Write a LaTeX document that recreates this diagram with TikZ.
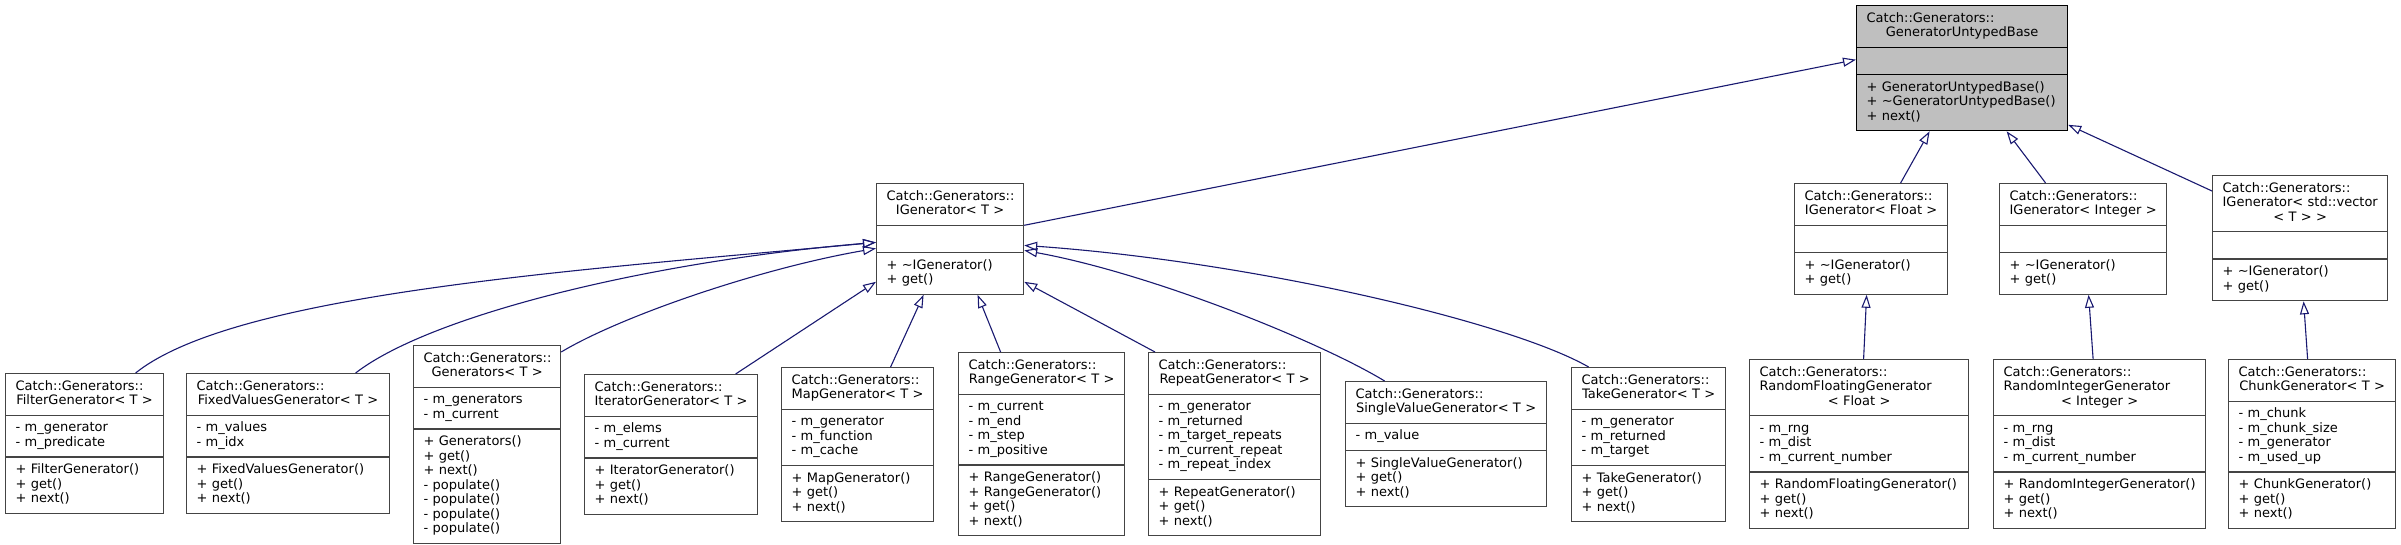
\documentclass[tikz,border=0pt]{standalone}
\usepackage{fontspec}
\usepackage{tikz}
\usetikzlibrary{shapes,arrows.meta,positioning}

\newfontfamily\umlfamily{DejaVu Sans}
\newcommand{\umlfont}{\umlfamily\fontsize{13}{14.5}\selectfont}
\newcommand{\lastline}[1]{\leavevmode\hbox to\linewidth{\hss#1\hss}}

\definecolor{edgeblue}{RGB}{25,25,112}
\definecolor{boxgray}{RGB}{68,68,68}
\definecolor{basegray}{RGB}{191,191,191}

\tikzset{
  classbox/.style={rectangle split, rectangle split parts=3, draw=boxgray, fill=white,
    line width=1.2pt, inner xsep=10pt, inner ysep=5.75pt, align=left,
    font=\umlfont, anchor=north west},
  inherit/.style={draw=edgeblue, line width=1.1pt,
    -{Triangle[open,length=13pt,width=9pt]}}
}

\begin{document}
\begin{tikzpicture}[x=1pt,y=-1pt]
\useasboundingbox (0,0) rectangle (2401,544);

% base class
\node[classbox, draw=black, fill=basegray, text width=191pt] (base) at (1856,5)
  {\strut Catch::Generators::\\\lastline{GeneratorUntypedBase}\strut
   \nodepart{second}\strut
   \nodepart{third}\strut+ GeneratorUntypedBase()\\+ \textasciitilde GeneratorUntypedBase()\\+ next()\strut};

% interfaces
\node[classbox, text width=127pt] (igen) at (876,183)
  {\strut Catch::Generators::\\\lastline{IGenerator< T >}\strut
   \nodepart{second}\strut
   \nodepart{third}\strut+ \textasciitilde IGenerator()\\+ get()\strut};
\node[classbox, text width=133pt] (igenfloat) at (1794,183)
  {\strut Catch::Generators::\\\lastline{IGenerator< Float >}\strut
   \nodepart{second}\strut
   \nodepart{third}\strut+ \textasciitilde IGenerator()\\+ get()\strut};
\node[classbox, text width=147pt] (igenint) at (1999,183)
  {\strut Catch::Generators::\\\lastline{IGenerator< Integer >}\strut
   \nodepart{second}\strut
   \nodepart{third}\strut+ \textasciitilde IGenerator()\\+ get()\strut};
\node[classbox, text width=155pt] (igenvec) at (2212,175)
  {\strut Catch::Generators::\\\mbox{IGenerator< std::vector}\\\lastline{< T > >}\strut
   \nodepart{second}\strut
   \nodepart{third}\strut+ \textasciitilde IGenerator()\\+ get()\strut};

% generators of T
\node[classbox, text width=138pt] (filter) at (5,373)
  {\strut Catch::Generators::\\\lastline{FilterGenerator< T >}\strut
   \nodepart{second}\strut- m\_generator\\- m\_predicate\strut
   \nodepart{third}\strut+ FilterGenerator()\\+ get()\\+ next()\strut};
\node[classbox, text width=183pt] (fixed) at (186,373)
  {\strut Catch::Generators::\\\lastline{FixedValuesGenerator< T >}\strut
   \nodepart{second}\strut- m\_values\\- m\_idx\strut
   \nodepart{third}\strut+ FixedValuesGenerator()\\+ get()\\+ next()\strut};
\node[classbox, text width=127pt] (gens) at (413,345)
  {\strut Catch::Generators::\\\lastline{Generators< T >}\strut
   \nodepart{second}\strut- m\_generators\\- m\_current\strut
   \nodepart{third}\strut+ Generators()\\+ get()\\+ next()\\- populate()\\- populate()\\- populate()\\- populate()\strut};
\node[classbox, text width=153pt] (iter) at (584,374)
  {\strut Catch::Generators::\\\lastline{IteratorGenerator< T >}\strut
   \nodepart{second}\strut- m\_elems\\- m\_current\strut
   \nodepart{third}\strut+ IteratorGenerator()\\+ get()\\+ next()\strut};
\node[classbox, text width=132pt] (map) at (781,367)
  {\strut Catch::Generators::\\\lastline{MapGenerator< T >}\strut
   \nodepart{second}\strut- m\_generator\\- m\_function\\- m\_cache\strut
   \nodepart{third}\strut+ MapGenerator()\\+ get()\\+ next()\strut};
\node[classbox, text width=146pt] (range) at (958,352)
  {\strut Catch::Generators::\\\lastline{RangeGenerator< T >}\strut
   \nodepart{second}\strut- m\_current\\- m\_end\\- m\_step\\- m\_positive\strut
   \nodepart{third}\strut+ RangeGenerator()\\+ RangeGenerator()\\+ get()\\+ next()\strut};
\node[classbox, text width=152pt] (repeat) at (1148,352)
  {\strut Catch::Generators::\\\lastline{RepeatGenerator< T >}\strut
   \nodepart{second}\strut- m\_generator\\- m\_returned\\- m\_target\_repeats\\- m\_current\_repeat\\- m\_repeat\_index\strut
   \nodepart{third}\strut+ RepeatGenerator()\\+ get()\\+ next()\strut};
\node[classbox, text width=181pt] (single) at (1345,381)
  {\strut Catch::Generators::\\\lastline{SingleValueGenerator< T >}\strut
   \nodepart{second}\strut- m\_value\strut
   \nodepart{third}\strut+ SingleValueGenerator()\\+ get()\\+ next()\strut};
\node[classbox, text width=134pt] (take) at (1571,367)
  {\strut Catch::Generators::\\\lastline{TakeGenerator< T >}\strut
   \nodepart{second}\strut- m\_generator\\- m\_returned\\- m\_target\strut
   \nodepart{third}\strut+ TakeGenerator()\\+ get()\\+ next()\strut};

% concrete generators
\node[classbox, text width=199pt] (rfloat) at (1749,359)
  {\strut Catch::Generators::\\RandomFloatingGenerator\\\lastline{< Float >}\strut
   \nodepart{second}\strut- m\_rng\\- m\_dist\\- m\_current\_number\strut
   \nodepart{third}\strut+ RandomFloatingGenerator()\\+ get()\\+ next()\strut};
\node[classbox, text width=192pt] (rint) at (1993,359)
  {\strut Catch::Generators::\\RandomIntegerGenerator\\\lastline{< Integer >}\strut
   \nodepart{second}\strut- m\_rng\\- m\_dist\\- m\_current\_number\strut
   \nodepart{third}\strut+ RandomIntegerGenerator()\\+ get()\\+ next()\strut};
\node[classbox, text width=147pt] (chunk) at (2228,359)
  {\strut Catch::Generators::\\\lastline{ChunkGenerator< T >}\strut
   \nodepart{second}\strut- m\_chunk\\- m\_chunk\_size\\- m\_generator\\- m\_used\_up\strut
   \nodepart{third}\strut+ ChunkGenerator()\\+ get()\\+ next()\strut};

% inheritance to the base
\draw[inherit] (igen.text split east) -- ([yshift=8.5pt]base.west);
\draw[inherit] ([xshift=29.5pt]igenfloat.north) -- ([xshift=-32.5pt]base.south);
\draw[inherit] ([xshift=-37.5pt]igenint.north) -- ([xshift=44.5pt]base.south);
\draw[inherit] ([yshift=-16pt]igenvec.north west) -- ([yshift=6.5pt]base.south east);

% inheritance to IGenerator< T >
\draw[inherit] ([xshift=51pt]filter.north) .. controls +(100,-80) and +(-300,28) .. ([yshift=-3.5pt]igen.west);
\draw[inherit] ([xshift=67.5pt]fixed.north) .. controls +(75,-58) and +(-226,19) .. ([yshift=-3.5pt]igen.west);
\draw[inherit] ([yshift=-7pt]gens.north east) .. controls +(60,-36) and +(-116,20) .. ([yshift=-9.5pt]igen.west);
\draw[inherit] ([xshift=64.5pt]iter.north) -- ([yshift=13pt]igen.south west);
\draw[inherit] ([xshift=33pt]map.north) -- ([xshift=-26.5pt]igen.south);
\draw[inherit] ([xshift=-41pt]range.north) -- ([xshift=27.5pt]igen.south);
\draw[inherit] ([xshift=7pt]repeat.north west) -- ([yshift=13pt]igen.south east);
\draw[inherit] ([xshift=-61.5pt]single.north) .. controls +(-64,-39) and +(127,23) .. ([yshift=-11.5pt]igen.east);
\draw[inherit] ([xshift=-60pt]take.north) .. controls +(-78,-45) and +(227,16) .. ([yshift=-6.5pt]igen.east);

% concrete ones
\draw[inherit] ([xshift=4.5pt]rfloat.north) -- ([xshift=-4.5pt]igenfloat.south);
\draw[inherit] ([xshift=-6.5pt]rint.north) -- ([xshift=5.5pt]igenint.south);
\draw[inherit] ([xshift=-4.5pt]chunk.north) -- ([xshift=3.5pt]igenvec.south);
\end{tikzpicture}
\end{document}
